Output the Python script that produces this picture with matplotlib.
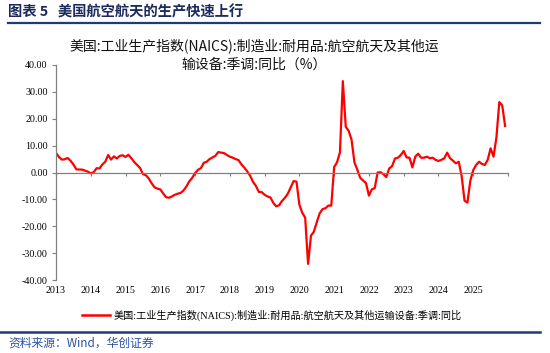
import numpy as np
import matplotlib
matplotlib.use("Agg")
import matplotlib.pyplot as plt
from matplotlib.lines import Line2D

# 月度数据：2013-01 起
start_year = 2013
yoy = [
    7.3, 5.8, 4.8, 4.9, 5.4, 4.4, 3.0, 1.2, 1.1, 1.1, 0.7, 0.3,
    -0.3, 0.1, 1.6, 1.5, 3.0, 4.0, 6.5, 4.8, 6.0, 5.2, 6.2, 6.4,
    5.8, 6.6, 5.3, 3.9, 2.8, 1.7, -0.6, -1.0, -2.2, -4.0, -5.5, -6.0,
    -6.3, -7.8, -9.2, -9.4, -8.9, -8.3, -7.9, -7.6, -6.7, -5.2, -3.3, -2.0,
    -0.2, 1.0, 1.6, 3.6, 4.0, 5.0, 5.6, 6.2, 7.6, 7.4, 7.2, 6.5,
    5.9, 5.5, 5.0, 4.6, 3.0, 1.8, 0.4, -1.2, -3.5, -5.0, -7.2, -7.3,
    -8.3, -8.9, -9.3, -11.3, -12.6, -12.2, -10.6, -9.4, -7.9, -5.5, -3.2, -3.4,
    -12.0, -15.0, -16.8, -34.0, -23.5, -22.0, -18.5, -15.2, -13.6, -13.3, -12.3, -12.3,
    2.0, 3.8, 7.5, 34.0, 17.0, 15.5, 12.2, 3.8, 1.0, -2.0, -3.0, -4.0,
    -8.6, -6.3, -5.8, 0.0, 0.1, -0.6, -1.7, 1.5, 2.4, 5.2, 5.5, 6.5,
    8.0, 5.6, 5.5, 1.9, 5.9, 7.0, 5.5, 5.5, 5.9, 5.3, 5.5, 4.7,
    4.3, 4.7, 5.3, 7.4, 5.3, 4.4, 3.4, 4.0, -1.3, -10.5, -11.2, -3.0,
    0.9, 2.8, 4.0, 3.2, 2.8, 4.7, 9.0, 5.9, 13.0, 26.2, 25.0, 17.3,
]
year_labels = [str(y) for y in range(2013, 2026)]
y_ticks = [40, 30, 20, 10, 0, -10, -20, -30, -40]

series_name = "美国:工业生产指数(NAICS):制造业:耐用品:航空航天及其他运输设备:季调:同比"
chart_title = "美国:工业生产指数(NAICS):制造业:耐用品:航空航天及其他运\n输设备:季调:同比（%）"
header = "图表 5   美国航空航天的生产快速上行"
source = "资料来源：Wind，华创证券"

navy = "#1F3A7A"
red = "#FF0000"
gray = "#808080"

months = np.arange(len(yoy))

fig = plt.figure(figsize=(5.5, 3.53), dpi=100)
fig.patch.set_facecolor("white")

ax = fig.add_axes([56 / 550, 1 - 280 / 353, (508 - 56) / 550, (280 - 65) / 353])
ax.plot(months, yoy, color=red, lw=1.6, solid_joinstyle="round")

ax.set_xlim(0, 156)
ax.set_ylim(-40, 40)

# x 轴线放在 0 处，标签放在底部
for s in ["top", "right"]:
    ax.spines[s].set_visible(False)
ax.spines["bottom"].set_position(("data", 0))
ax.spines["bottom"].set_color(gray)
ax.spines["bottom"].set_linewidth(0.9)
ax.spines["left"].set_color(gray)
ax.spines["left"].set_linewidth(0.9)

ax.set_xticks(np.arange(0, 157, 12))
ax.tick_params(axis="x", direction="out", length=2.5, width=0.8, color=gray, labelbottom=False)

sec = ax.secondary_xaxis(0)
sec.set_xticks(np.arange(0, 12 * len(year_labels), 12), year_labels)
sec.tick_params(length=0, pad=4)
sec.spines["bottom"].set_visible(False)
for lab in sec.get_xticklabels():
    lab.set_fontfamily("Liberation Serif")
    lab.set_fontsize(7.2)

ax.set_yticks(y_ticks)
ax.set_yticklabels([f"{v:.2f}" for v in y_ticks], fontfamily="Liberation Serif", fontsize=7.2)
ax.tick_params(axis="y", direction="out", length=3, width=0.8, color=gray, pad=3)

# 图内标题
fig.text(0.462, 1 - 55 / 353, chart_title, ha="center", va="center", fontsize=10,
         family=["Noto Sans CJK SC", "DejaVu Sans"], linespacing=1.35, color="#111111")

# 图例
handle = Line2D([], [], color=red, lw=1.8)
fig.legend([handle], [series_name], loc="center left", bbox_to_anchor=(82 / 550, 1 - 315 / 353),
           frameon=False, handlelength=2.8, handletextpad=0.3, borderaxespad=0, borderpad=0,
           prop={"family": ["Liberation Serif", "Noto Sans CJK SC"], "size": 7.3})

# 顶部标题与底部来源
fig.text(8 / 550, 1 - 12 / 353, header, ha="left", va="center", fontsize=10.3, fontweight="bold",
         family=["Noto Sans CJK SC", "DejaVu Sans"], color="#1C2B5C")
fig.add_artist(Line2D([8 / 550, 540 / 550], [1 - 22.5 / 353] * 2, color=navy, lw=1.6))
fig.add_artist(Line2D([0, 540 / 550], [1 - 332 / 353] * 2, color=navy, lw=1.8))
fig.text(8 / 550, 1 - 343 / 353, source, ha="left", va="center", fontsize=8.5, style="italic",
         family=["Noto Sans CJK SC", "DejaVu Sans"], color="#2A52A0")

fig.savefig("out.png", dpi=100)
